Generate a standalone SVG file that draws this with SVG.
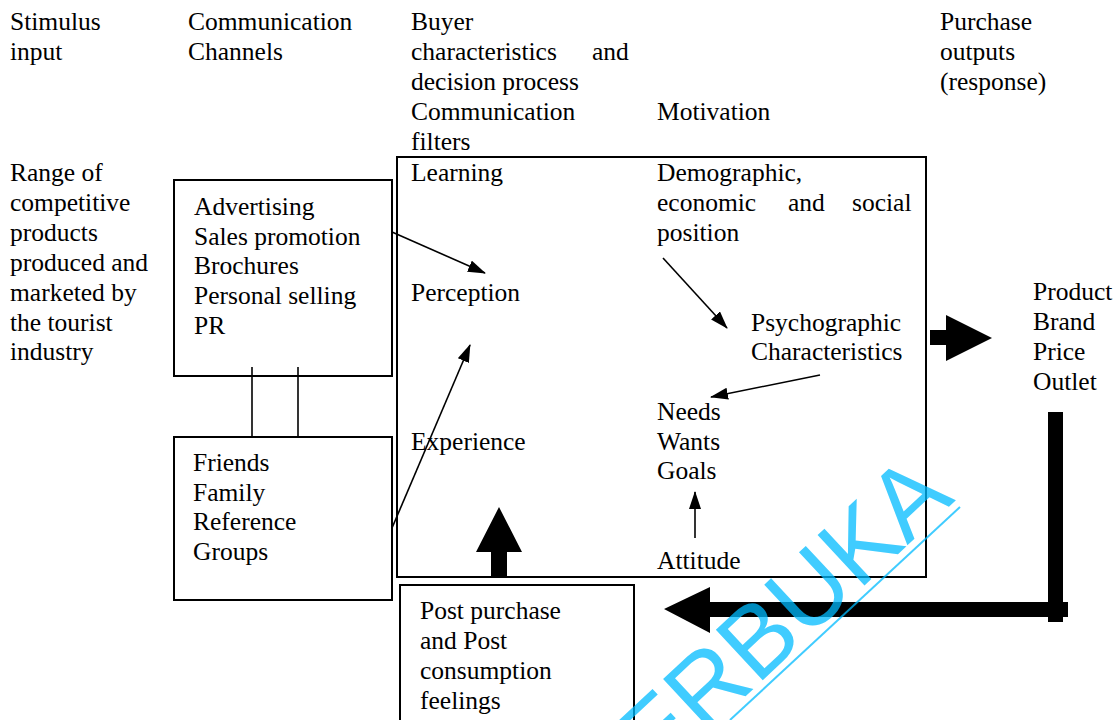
<svg xmlns="http://www.w3.org/2000/svg" width="1120" height="720" viewBox="0 0 1120 720">
<style>
text{font-family:"Liberation Serif","Times New Roman",serif;font-size:25.5px;fill:#000}
.box{fill:none;stroke:#000;stroke-width:2}
.ln{fill:none;stroke:#000;stroke-width:1.6}
.blk{fill:#000;stroke:none}
.wm{font-family:"Liberation Sans",Arial,sans-serif;font-size:100px;fill:rgb(0,187,255);fill-opacity:0.75}
</style>
<defs>
<marker id="ah" markerWidth="18" markerHeight="12" refX="17" refY="6" orient="auto" markerUnits="userSpaceOnUse">
<path d="M0,0 L18,6 L0,12 Z" fill="#000"/>
</marker>
</defs>
<rect width="1120" height="720" fill="#fff"/>

<g id="headers">
<text x="10" y="30">Stimulus</text>
<text x="10" y="60">input</text>
<text x="188" y="30">Communication</text>
<text x="188" y="60">Channels</text>
<text x="411" y="30">Buyer</text>
<text y="60"><tspan x="411">characteristics</tspan><tspan x="592">and</tspan></text>
<text x="411" y="90">decision process</text>
<text x="411" y="120">Communication</text>
<text x="411" y="150">filters</text>
<text x="657" y="120">Motivation</text>
<text x="940" y="30">Purchase</text>
<text x="940" y="60">outputs</text>
<text x="940" y="90">(response)</text>
</g>

<g id="stimulus">
<text x="10" y="181">Range of</text>
<text x="10" y="211">competitive</text>
<text x="10" y="241">products</text>
<text x="10" y="271">produced and</text>
<text x="10" y="301">marketed by</text>
<text x="10" y="331">the tourist</text>
<text x="10" y="360">industry</text>
</g>

<g id="advertising">
<rect class="box" x="174" y="180" width="218" height="196"/>
<text x="194" y="215">Advertising</text>
<text x="194" y="245">Sales promotion</text>
<text x="194" y="274">Brochures</text>
<text x="194" y="304">Personal selling</text>
<text x="194" y="334">PR</text>
</g>

<g id="friends">
<rect class="box" x="174" y="437" width="218" height="163"/>
<text x="193" y="471">Friends</text>
<text x="193" y="501">Family</text>
<text x="193" y="530">Reference</text>
<text x="193" y="560">Groups</text>
</g>

<g id="buyer">
<rect class="box" x="397" y="157" width="529" height="420"/>
<text x="411" y="181">Learning</text>
<text x="411" y="301">Perception</text>
<text x="411" y="450">Experience</text>
<text x="657" y="181">Demographic,</text>
<text y="211"><tspan x="657">economic</tspan><tspan x="788">and</tspan><tspan x="852">social</tspan></text>
<text x="657" y="241">position</text>
<text x="751" y="331">Psychographic</text>
<text x="751" y="360">Characteristics</text>
<text x="657" y="420">Needs</text>
<text x="657" y="450">Wants</text>
<text x="657" y="479">Goals</text>
<text x="657" y="569">Attitude</text>
</g>

<g id="postpurchase">
<rect class="box" x="400" y="585" width="234" height="150"/>
<text x="420" y="619">Post purchase</text>
<text x="420" y="649">and Post</text>
<text x="420" y="679">consumption</text>
<text x="420" y="709">feelings</text>
</g>

<g id="outputs">
<text x="1033" y="300">Product</text>
<text x="1033" y="330">Brand</text>
<text x="1033" y="360">Price</text>
<text x="1033" y="390">Outlet</text>
</g>

<g id="connectors">
<line class="ln" x1="252" y1="367" x2="252" y2="437"/>
<line class="ln" x1="298" y1="367" x2="298" y2="437"/>
<line class="ln" x1="392" y1="232" x2="485" y2="273" marker-end="url(#ah)"/>
<line class="ln" x1="392" y1="528" x2="470" y2="345" marker-end="url(#ah)"/>
<line class="ln" x1="663" y1="258" x2="727" y2="328" marker-end="url(#ah)"/>
<line class="ln" x1="820" y1="375" x2="711" y2="397" marker-end="url(#ah)"/>
<line class="ln" x1="695" y1="538" x2="695" y2="492" marker-end="url(#ah)"/>
<path class="blk" d="M491,577 L491,552 L476,552 L499,507 L522,552 L507,552 L507,577 Z"/>
<path class="blk" d="M930,330 L946,330 L946,315 L992,338 L946,361 L946,345 L930,345 Z"/>
<rect class="blk" x="1048" y="412" width="15" height="210"/>
<path class="blk" d="M1068,602 L1068,617 L710,617 L710,633 L664,609 L710,587 L710,602 Z"/>
</g>

<g id="watermark">
<text class="wm" text-anchor="end" transform="translate(956,500) rotate(-43)">ERBUKA</text>
<line x1="960" y1="507" x2="730" y2="720" stroke="rgb(0,187,255)" stroke-opacity="0.75" stroke-width="2"/>
</g>
</svg>
